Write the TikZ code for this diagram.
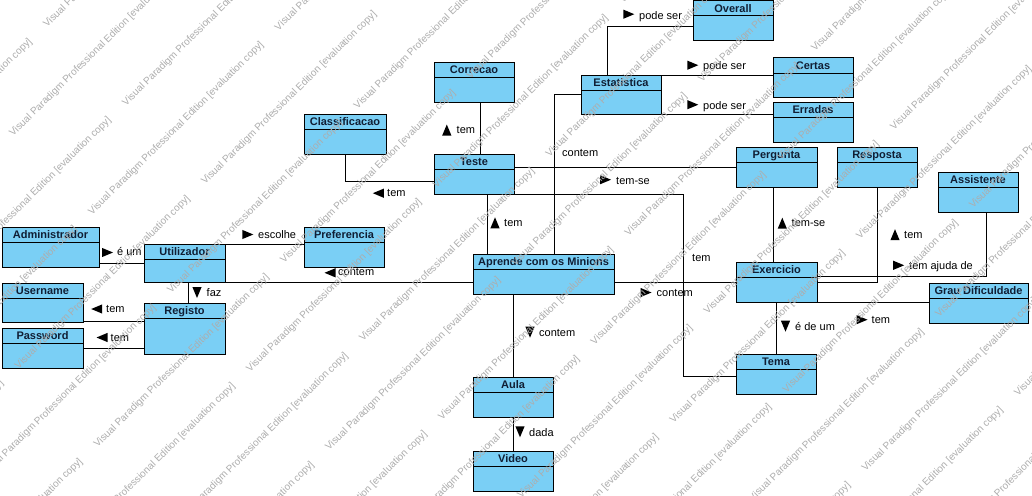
\documentclass[tikz,border=0pt]{standalone}
\usepackage{fontspec}
\setmainfont{Liberation Sans}
\definecolor{boxblue}{RGB}{122,207,245}
\definecolor{titlenavy}{RGB}{16,30,52}
\newcommand\umlclass[6]{% name, left, top, right, bottom, title
  \node[cls, minimum width={#4-#2}, minimum height={#5-#3}] (#1) at (#2,#3) {};
  \draw[conn] ([yshift=-15pt]#1.north west) -- ([yshift=-15pt]#1.north east);
  \node[ttl] (#1-t) at ([yshift=-11.5pt]#1.north) {#6};
}
\begin{document}
\begin{tikzpicture}[x=1pt,y=-1pt,
  cls/.style={draw=black, line width=1pt, fill=boxblue, rectangle, inner sep=0pt, outer sep=0pt, anchor=north west},
  ttl/.style={font=\fontsize{11}{13}\selectfont\bfseries, text=titlenavy, anchor=base, inner sep=0pt},
  lbl/.style={font=\fontsize{11}{13}\selectfont, anchor=mid west, inner sep=0pt},
  conn/.style={line width=1pt, draw=black},
  wm/.style={font=\fontsize{10}{12}\selectfont, text=black!32, anchor=base west, inner sep=0pt, rotate=44.7},
  tri/.pic={\fill[black] (-5.5,-4.6) -- (-5.5,4.6) -- (5.5,0) -- cycle;}
]
\useasboundingbox (0,0) rectangle (1032,495);
\fill[white] (0,0) rectangle (1032,495);

% classes
\umlclass{admin}{2}{227}{99}{267}{Administrador}
\umlclass{util}{144}{244}{225}{282}{Utilizador}
\umlclass{user}{2}{283}{83}{322}{Username}
\umlclass{reg}{144}{303}{225}{354}{Registo}
\umlclass{pass}{2}{328}{83}{368}{Password}
\umlclass{classif}{304}{114}{386}{154}{Classificacao}
\umlclass{corr}{434}{62}{514}{102}{Correcao}
\umlclass{teste}{434}{154}{514}{194}{Teste}
\umlclass{pref}{304}{227}{384}{267}{Preferencia}
\umlclass{apr}{473}{254}{614}{294}{Aprende com os Minions}
\umlclass{est}{581}{75}{661}{114}{Estatistica}
\umlclass{overall}{693}{1}{773}{41}{Overall}
\umlclass{certas}{773}{58}{853}{97}{Certas}
\umlclass{erradas}{773}{102}{853}{142}{Erradas}
\umlclass{perg}{736}{147}{817}{187}{Pergunta}
\umlclass{resp}{837}{147}{917}{187}{Resposta}
\umlclass{assist}{938}{172}{1018}{212}{Assistente}
\umlclass{exer}{736}{262}{817}{302}{Exercicio}
\umlclass{grau}{929}{283}{1028}{323}{Grau Dificuldade}
\umlclass{tema}{736}{354}{816}{394}{Tema}
\umlclass{aula}{473}{377}{553}{417}{Aula}
\umlclass{video}{473}{451}{553}{491}{Video}

% associations
\draw[conn] ([yshift=-16pt]admin.east) -- ([yshift=-16pt]admin.east -| util.west);
\draw[conn] ([xshift=3.5pt]util.south) -- ([xshift=3.5pt]util.south |- reg.north);
\draw[conn] ([yshift=-18.5pt]user.east) -- ([yshift=-18.5pt]user.east -| reg.west);
\draw[conn] (pass.east) -- (pass.east -| reg.west);
\draw[conn] (util.north east) -- (util.north east -| pref.west);
\draw[conn] (util.south east) -- (util.south east -| apr.west);
\draw[conn] (classif.south) |- ([yshift=-7pt]teste.west);
\draw[conn] ([xshift=6.5pt]corr.south) -- ([xshift=6.5pt]corr.south |- teste.north);
\draw[conn] ([xshift=13pt]teste.south) -- ([xshift=13pt]teste.south |- apr.north);
\draw[conn] (est.west) -| ([xshift=10.5pt]apr.north);
\draw[conn] (teste.east |- perg.west) -- (perg.west);
\draw[conn] (teste.south east) -| ([xshift=-53pt,yshift=-2pt]tema.west) -- ([yshift=-2pt]tema.west);
\draw[conn] (apr.east |- exer.west) -- (exer.west);
\draw[conn] ([xshift=-14pt]est.north) |- ([yshift=-6pt]overall.west);
\draw[conn] (est.north east) -- (est.north east -| certas.west);
\draw[conn] (est.south east) -- (est.south east -| erradas.west);
\draw[conn] ([xshift=-3.5pt]perg.south) -- ([xshift=-3.5pt]perg.south |- exer.north);
\draw[conn] (resp.south) |- (exer.east);
\draw[conn] ([xshift=8pt]assist.south) |- ([yshift=6pt]exer.east);
\draw[conn] (exer.south east) -- (exer.south east -| grau.west);
\draw[conn] (exer.south) -- (exer.south |- tema.north);
\draw[conn] (aula.north |- apr.south) -- (aula.north);
\draw[conn] (aula.south) -- (video.north);

% association names with reading-direction triangles
\pic at (107.5,252.5) {tri};            \node[lbl] (l1) at (117,253) {é um};
\pic[rotate=-90] at (197,292.5) {tri};  \node[lbl] (l2) at (206.5,294) {faz};
\pic[rotate=180] at (96.7,309) {tri};   \node[lbl] (l3) at (106,310) {tem};
\pic[rotate=180] at (102,337.5) {tri};  \node[lbl] (l4) at (110.5,339) {tem};
\pic[rotate=180] at (378.3,193.2) {tri};\node[lbl] (l5) at (387,194) {tem};
\pic[rotate=90] at (446.8,130) {tri};   \node[lbl] (l6) at (456.5,130.7) {tem};
\pic[rotate=90] at (495,222.8) {tri};   \node[lbl] (l7) at (504,224) {tem};
\pic at (247.8,234.5) {tri};            \node[lbl] (l8) at (258,236) {escolhe};
\pic[rotate=180] at (330,272.8) {tri};  \node[lbl] (l9) at (338,273.3) {contem};
\node[lbl] (l10) at (562,154) {contem};
\pic at (605.5,179.7) {tri};            \node[lbl] (l11) at (616,181.7) {tem-se};
\node[lbl] (l12) at (692,259) {tem};
\pic at (646,292.5) {tri};              \node[lbl] (l13) at (656.5,294) {contem};
\pic[rotate=90] at (782.3,223.2) {tri}; \node[lbl] (l14) at (791.5,224) {tem-se};
\pic[rotate=90] at (895,234.7) {tri};   \node[lbl] (l15) at (904,235.7) {tem};
\pic at (898.7,265.3) {tri};            \node[lbl] (l16) at (909,266.7) {tem ajuda de};
\pic at (862,319.7) {tri};              \node[lbl] (l17) at (871.5,321) {tem};
\pic[rotate=-90] at (785.5,326.2) {tri};\node[lbl] (l18) at (795,328.3) {é de um};
\pic[rotate=-90] at (530,332.2) {tri};  \node[lbl] (l19) at (539,334) {contem};
\pic[rotate=-90] at (520,431.8) {tri};  \node[lbl] (l20) at (529,434.3) {dada};
\pic at (628.8,14.2) {tri};             \node[lbl] (l21) at (639,16.7) {pode ser};
\pic at (692.8,65.2) {tri};             \node[lbl] (l22) at (703,66.7) {pode ser};
\pic at (692.8,104.7) {tri};            \node[lbl] (l23) at (703,106.7) {pode ser};

% evaluation watermark tiled over the sheet
\begin{scope}
\clip (0,0) rectangle (1032,495);
\foreach \n in {-3,...,12} {
  \foreach \m in {-4,...,4} {
    \node[wm] (wa-\n-\m) at ({47+79*\n+186.5*\m},{28+78.5*\n-184.3*\m}) {Visual Paradigm Professional Edition [evaluation copy]};
    \node[wm] (wb-\n-\m) at ({13+79*\n+186.5*\m},{137+78.5*\n-184.3*\m}) {Visual Paradigm Professional Edition [evaluation copy]};
  }
}
\end{scope}
\end{tikzpicture}
\end{document}
